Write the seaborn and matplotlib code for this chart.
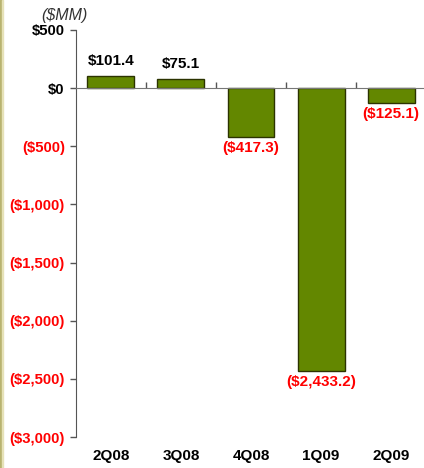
import matplotlib
matplotlib.use("Agg")
import matplotlib.pyplot as plt
import matplotlib.transforms as mtrans
import seaborn as sns
import pandas as pd

quarters = ["2Q08", "3Q08", "4Q08", "1Q09", "2Q09"]
net_income = [101.4, 75.1, -417.3, -2433.2, -125.1]
bar_labels = ["$101.4", "$75.1", "($417.3)", "($2,433.2)", "($125.1)"]
ytick_vals = [500, 0, -500, -1000, -1500, -2000, -2500, -3000]
ytick_labels = ["$500", "$0", "($500)", "($1,000)", "($1,500)", "($2,000)", "($2,500)", "($3,000)"]

sns.set_style("white")
plt.rcParams["font.family"] = ["Liberation Sans", "DejaVu Sans"]

df = pd.DataFrame({"quarter": quarters, "value": net_income})

fig = plt.figure(figsize=(4.24, 4.68), dpi=100)
ax = fig.add_axes([0.179, 0.066, 0.826, 0.87])

sns.barplot(data=df, x="quarter", y="value", color="#638700", saturation=1,
            width=0.67, edgecolor="#2b3300", linewidth=1.0, ax=ax)

ax.set_ylim(-3000, 500)
ax.set_xlim(-0.5, 4.5)
ax.set_yticks(ytick_vals)
ax.set_yticklabels(ytick_labels, fontsize=10.7, fontweight="bold")
for lab, v in zip(ax.get_yticklabels(), ytick_vals):
    lab.set_color("black" if v >= 0 else "#ff0000")
ax.tick_params(axis="y", length=4, width=1, color="#555555", pad=4, left=True)

# x axis line sits at zero, small ticks between categories
for s in ["top", "right"]:
    ax.spines[s].set_visible(False)
ax.spines["left"].set_color("#555555")
ax.spines["bottom"].set_position(("data", 0))
ax.spines["bottom"].set_color("#777777")
ax.set_xticks([i + 0.5 for i in range(len(quarters) - 1)])
ax.set_xticklabels([])
ax.tick_params(axis="x", direction="in", length=4, width=1, color="#555555", bottom=True)
ax.set_xlabel("")
ax.set_ylabel("")

trans = mtrans.blended_transform_factory(ax.transData, ax.transAxes)
for i, q in enumerate(quarters):
    ax.text(i, -0.047, q, transform=trans, ha="center", va="center",
            fontsize=11, fontweight="bold", color="black")

for i, (v, lab) in enumerate(zip(net_income, bar_labels)):
    if v >= 0:
        ax.annotate(lab, (i, v), xytext=(0, 6), textcoords="offset points",
                    ha="center", va="bottom", fontsize=11, fontweight="bold", color="black")
    else:
        ax.annotate(lab, (i, v), xytext=(0, -3), textcoords="offset points",
                    ha="center", va="top", fontsize=11, fontweight="bold", color="#ff0000")

fig.text(0.151, 0.966, "($MM)", ha="center", va="center", fontsize=11.5,
         style="italic", color="#333333")

# olive strip on the left edge
fig.patches.append(plt.Rectangle((0, 0), 0.004, 1, transform=fig.transFigure,
                                 color="#b8b370", zorder=0))
fig.patches.append(plt.Rectangle((0.004, 0), 0.004, 1, transform=fig.transFigure,
                                 color="#e6e2b8", zorder=0))

fig.savefig("out.png", dpi=100)
